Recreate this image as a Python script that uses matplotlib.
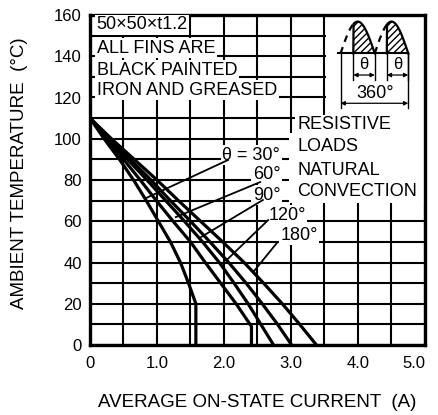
"""Thyristor derating chart: ambient temperature vs average on-state current."""

import matplotlib

matplotlib.use("Agg")
import matplotlib.pyplot as plt
import numpy as np
from matplotlib.patches import Rectangle

plt.rcParams["font.family"] = ["Liberation Sans", "DejaVu Sans"]
plt.rcParams["hatch.linewidth"] = 1.0

# ambient temperature levels (deg C) where the curves were read
temps = [110, 100, 90, 80, 70, 60, 50, 40, 30, 20, 10, 0]

# current (A) at each temperature level, one list per conduction angle
cur_30 = [0, 0.21, 0.44, 0.65, 0.84, 1.02, 1.20, 1.35, 1.47, 1.58]
temp_30 = [110, 100, 90, 80, 70, 60, 50, 40, 30, 20]
cur_60 = [0, 0.24, 0.50, 0.75, 0.99, 1.24, 1.50, 1.72, 1.95, 2.18, 2.41]
temp_60 = [110, 100, 90, 80, 70, 60, 50, 40, 30, 20, 9]
cur_90 = [0, 0.27, 0.56, 0.85, 1.13, 1.41, 1.68, 1.93, 2.15, 2.36, 2.55, 2.74]
cur_120 = [0, 0.29, 0.60, 0.91, 1.20, 1.50, 1.79, 2.07, 2.33, 2.57, 2.80, 3.01]
cur_180 = [0, 0.32, 0.66, 1.00, 1.32, 1.65, 1.98, 2.30, 2.59, 2.87, 3.13, 3.38]

x_ticks = [0, 1.0, 2.0, 3.0, 4.0, 5.0]
x_tick_labels = ["0", "1.0", "2.0", "3.0", "4.0", "5.0"]
y_ticks = [0, 20, 40, 60, 80, 100, 120, 140, 160]

note_lines = ["50×50×t1.2", "ALL FINS ARE", "BLACK PAINTED", "IRON AND GREASED"]
cond_lines = ["RESISTIVE", "LOADS", "NATURAL", "CONVECTION"]

fig = plt.figure(figsize=(4.39, 4.15), dpi=100)
ax = fig.add_axes([90 / 439, 70 / 415, 335 / 439, 330 / 415])
ax.set_xlim(0, 5.0)
ax.set_ylim(0, 160)

ax.set_axisbelow(True)
ax.set_xticks(np.arange(0, 5.01, 0.5), minor=True)
ax.set_yticks(np.arange(0, 161, 10), minor=True)
ax.grid(True, which="both", color="black", lw=1.5)
ax.set_xticks(x_ticks)
ax.set_xticklabels(x_tick_labels, fontsize=12)
ax.set_yticks(y_ticks)
ax.set_yticklabels([str(t) for t in y_ticks], fontsize=12)
ax.get_xticklabels()[-1].set_horizontalalignment("right")
ax.tick_params(which="both", length=0)
ax.tick_params(axis="x", pad=8)
ax.tick_params(axis="y", pad=6)
for sp in ax.spines.values():
    sp.set_linewidth(2.4)

ax.set_xlabel("AVERAGE ON-STATE CURRENT  (A)", fontsize=13.5)
ax.set_ylabel("AMBIENT TEMPERATURE  (°C)", fontsize=13.5)
ax.xaxis.set_label_coords(0.5, -0.148)
ax.yaxis.set_label_coords(-0.185, 0.52)

# derating curves; 30 and 60 deg drop vertically at their current limit
ax.plot(cur_30 + [cur_30[-1]], temp_30 + [0], color="black", lw=2.3)
ax.plot(cur_60 + [cur_60[-1]], temp_60 + [0], color="black", lw=2.3)
ax.plot(cur_90, temps, color="black", lw=2.3)
ax.plot(cur_120, temps, color="black", lw=2.3)
ax.plot(cur_180, temps, color="black", lw=2.3)

# white areas hiding the grid behind the text blocks
ax.add_patch(Rectangle((2.97, 69), 2.03, 34, facecolor="white", edgecolor="none", zorder=1))
ax.add_patch(Rectangle((3.52, 103), 1.48, 57, facecolor="white", edgecolor="none", zorder=1))

box = dict(facecolor="white", edgecolor="none", pad=1.2)
for txt, y in zip(note_lines, [155.2, 143.9, 133.3, 123.6]):
    ax.text(0.1, y, txt, fontsize=13, va="center", ha="left", bbox=box)
for txt, y in zip(cond_lines, [106.7, 96.1, 84.8, 74.3]):
    ax.text(3.09, y, txt, fontsize=13, va="center", ha="left", bbox=box)

# angle labels with leader lines
ax.text(2.84, 92.1, "θ = 30°", fontsize=13, va="center", ha="right", bbox=box)
ax.text(2.84, 82.9, "60°", fontsize=13, va="center", ha="right", bbox=box)
ax.text(2.84, 72.7, "90°", fontsize=13, va="center", ha="right", bbox=box)
ax.text(2.66, 63.0, "120°", fontsize=13, va="center", ha="left", bbox=box)
ax.text(2.84, 53.3, "180°", fontsize=13, va="center", ha="left", bbox=box)
leaders = [
    ((2.06, 89.7), (0.82, 71)),
    ((2.54, 79.0), (1.28, 62)),
    ((2.58, 70.3), (1.64, 52)),
    ((2.66, 60.6), (2.04, 41.2)),
    ((2.79, 49.5), (2.44, 35.5)),
]
for (x0, y0), (x1, y1) in leaders:
    ax.plot([x0, x1], [y0, y1], color="black", lw=1.3, zorder=3)

# waveform sketch in the upper right corner
base, peak = 141.4, 156.8
ax.plot([3.70, 4.75], [base, base], color="black", lw=1.5, zorder=3)
for start, fire, end in [(3.74, 3.93, 4.25), (4.25, 4.43, 4.75)]:
    xs = np.linspace(start, end, 80)
    ys = base + (peak - base) * np.sin(np.pi * (xs - start) / (end - start))
    on = xs >= fire
    ax.plot(xs[~on], ys[~on], color="black", lw=1.6, ls=(0, (3, 2.5)), zorder=3)
    ax.plot(np.r_[fire, xs[on]], np.r_[base, ys[on]], color="black", lw=1.6, zorder=3)
    ax.fill_between(xs[on], base, ys[on], facecolor="none", edgecolor="black",
                    hatch="/////", lw=0, zorder=3)
    ax.plot([fire, fire], [base, 128.5], color="black", lw=1.0, zorder=3)
    ax.plot([end, end], [base, 128.5], color="black", lw=1.0, zorder=3)
    ax.annotate("", xy=(fire, 130.9), xytext=(end, 130.9),
                arrowprops=dict(arrowstyle="<|-|>", color="black", lw=0.9,
                                mutation_scale=6, shrinkA=0, shrinkB=0), zorder=3)
    ax.text((fire + end) / 2, 136.0, "θ", fontsize=12, ha="center", va="center",
            bbox=dict(facecolor="white", edgecolor="none", pad=0.3), zorder=4)

ax.plot([3.74, 3.74], [base, 114.9], color="black", lw=1.0, zorder=3)
ax.plot([4.75, 4.75], [base, 114.9], color="black", lw=1.0, zorder=3)
ax.annotate("", xy=(3.74, 117.2), xytext=(4.75, 117.2),
            arrowprops=dict(arrowstyle="<|-|>", color="black", lw=0.9,
                            mutation_scale=6, shrinkA=0, shrinkB=0), zorder=3)
ax.text(4.25, 121.9, "360°", fontsize=13, ha="center", va="center")

fig.savefig("out.png", dpi=100)
